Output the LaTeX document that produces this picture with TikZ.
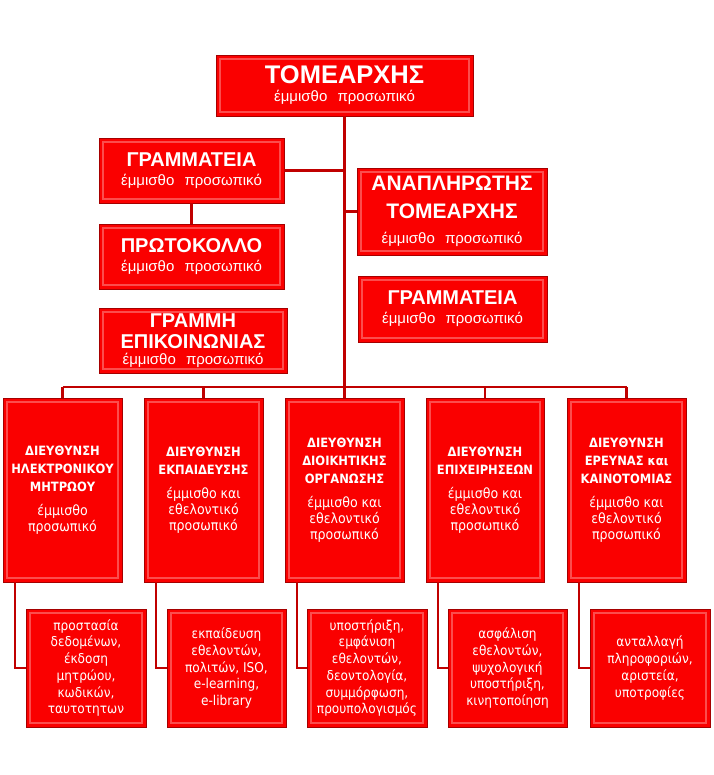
\documentclass[tikz,border=0pt]{standalone}
\usepackage{fontspec}
\setmainfont{Liberation Sans}
\newfontfamily\tah{DejaVu Sans Condensed}
\usetikzlibrary{calc}
\definecolor{boxred}{RGB}{250,0,0}
\definecolor{edgered}{RGB}{165,0,0}
\definecolor{linered}{RGB}{192,0,0}
\tikzset{
  box/.style={fill=boxred, draw=edgered, line width=0.8pt, inner sep=0pt, text=white, align=center,
    path picture={\draw[white,opacity=.3,line width=1.6pt]
      ([shift={(4pt,-4pt)}]path picture bounding box.north west) rectangle
      ([shift={(-4pt,4pt)}]path picture bounding box.south east);}},
  topbox/.style={box, font={\fontsize{15}{20}\selectfont}},
  dirbox/.style={box, font={\tah\fontsize{12.8}{18}\selectfont}},
  lowbox/.style={box, font={\tah\fontsize{13.5}{16.7}\selectfont}},
  conn/.style={draw=linered, line width=2.2pt},
}
\newcommand\mkbox[7]{\node[#2,minimum width={(#5-#3)*1pt},minimum height={(#6-#4)*1pt}] (#1) at ({(#3+#5)/2},{(#4+#6)/2}) {#7};}
\newcommand\sub{έμμισθο\hspace{6pt} προσωπικό}
\newcommand\ttl[2]{{\fontsize{#1}{#1}\selectfont\bfseries #2}}
\newcommand\dsub[1]{{\mdseries\fontsize{14}{15.5}\selectfont #1}}
\begin{document}
\begin{tikzpicture}[x=1pt,y=-1pt]
\useasboundingbox (0,0) rectangle (713,775);
% top section
\mkbox{top}{topbox}{216}{55}{473}{116}{\ttl{25.5}{ΤΟΜΕΑΡΧΗΣ}\\[-2pt]\sub}
\mkbox{gramA}{topbox}{99}{138}{284}{203}{\ttl{20}{ΓΡΑΜΜΑΤΕΙΑ}\\[-1pt]\sub}
\mkbox{prot}{topbox}{99}{224}{284}{289}{\ttl{20}{ΠΡΩΤΟΚΟΛΛΟ}\\[-1pt]\sub}
\mkbox{grline}{topbox}{99}{308}{287}{373}{\ttl{20}{ΓΡΑΜΜΗ}\\[1pt]\ttl{20}{ΕΠΙΚΟΙΝΩΝΙΑΣ}\\[-4pt]\sub}
\mkbox{anapl}{topbox}{357}{168}{547}{255}{\ttl{21}{ΑΝΑΠΛΗΡΩΤΗΣ}\\[8pt]\ttl{21}{ΤΟΜΕΑΡΧΗΣ}\\[5pt]\sub}
\mkbox{gramB}{topbox}{358}{276}{547}{342}{\ttl{20}{ΓΡΑΜΜΑΤΕΙΑ}\\[-1pt]\sub}
% directors
\mkbox{d1}{dirbox}{3}{398}{122}{582}{\bfseries ΔΙΕΥΘΥΝΣΗ\\\bfseries ΗΛΕΚΤΡΟΝΙΚΟΥ\\\bfseries ΜΗΤΡΩΟΥ\\[6pt]\dsub{έμμισθο}\\[-2pt]\dsub{προσωπικό}}
\mkbox{d2}{dirbox}{144}{398}{263}{582}{\bfseries ΔΙΕΥΘΥΝΣΗ\\\bfseries ΕΚΠΑΙΔΕΥΣΗΣ\\[6pt]\dsub{έμμισθο και}\\[-2pt]\dsub{εθελοντικό}\\[-2pt]\dsub{προσωπικό}}
\mkbox{d3}{dirbox}{285}{398}{404}{582}{\bfseries ΔΙΕΥΘΥΝΣΗ\\\bfseries ΔΙΟΙΚΗΤΙΚΗΣ\\\bfseries ΟΡΓΑΝΩΣΗΣ\\[6pt]\dsub{έμμισθο και}\\[-2pt]\dsub{εθελοντικό}\\[-2pt]\dsub{προσωπικό}}
\mkbox{d4}{dirbox}{426}{398}{544}{582}{\bfseries ΔΙΕΥΘΥΝΣΗ\\\bfseries ΕΠΙΧΕΙΡΗΣΕΩΝ\\[6pt]\dsub{έμμισθο και}\\[-2pt]\dsub{εθελοντικό}\\[-2pt]\dsub{προσωπικό}}
\mkbox{d5}{dirbox}{567}{398}{686}{582}{\bfseries ΔΙΕΥΘΥΝΣΗ\\\bfseries ΕΡΕΥΝΑΣ και\\\bfseries ΚΑΙΝΟΤΟΜΙΑΣ\\[6pt]\dsub{έμμισθο και}\\[-2pt]\dsub{εθελοντικό}\\[-2pt]\dsub{προσωπικό}}
% lower boxes
\mkbox{l1}{lowbox}{26}{609}{146}{727}{προστασία\\δεδομένων,\\έκδοση\\μητρώου,\\κωδικών,\\ταυτοτητων}
\mkbox{l2}{lowbox}{167}{609}{286}{727}{εκπαίδευση\\εθελοντών,\\πολιτών, ISO,\\e-learning,\\e-library}
\mkbox{l3}{lowbox}{307}{609}{427}{727}{υποστήριξη,\\εμφάνιση\\εθελοντών,\\δεοντολογία,\\συμμόρφωση,\\προυπολογισμός}
\mkbox{l4}{lowbox}{448}{609}{567}{727}{ασφάλιση\\εθελοντών,\\ψυχολογική\\υποστήριξη,\\κινητοποίηση}
\mkbox{l5}{lowbox}{590}{609}{710}{727}{ανταλλαγή\\πληροφοριών,\\αριστεία,\\υποτροφίες}
% connectors
\coordinate (busy) at (0,387);
\draw[conn] (top.south) -- (top.south |- busy);
\draw[conn] (d1.north |- busy) -- (d5.north |- busy);
\draw[conn] (gramA.east) -- (gramA.east -| top.south);
\draw[conn] (gramA.south) -- (prot.north);
\draw[conn] (anapl.west) -- (anapl.west -| top.south);
\foreach \i in {1,...,5}{
  \draw[conn] (d\i.north |- busy) -- (d\i.north);
  \draw[conn] ([xshift=12pt]d\i.south west) |- (l\i.west);
}
\end{tikzpicture}
\end{document}
